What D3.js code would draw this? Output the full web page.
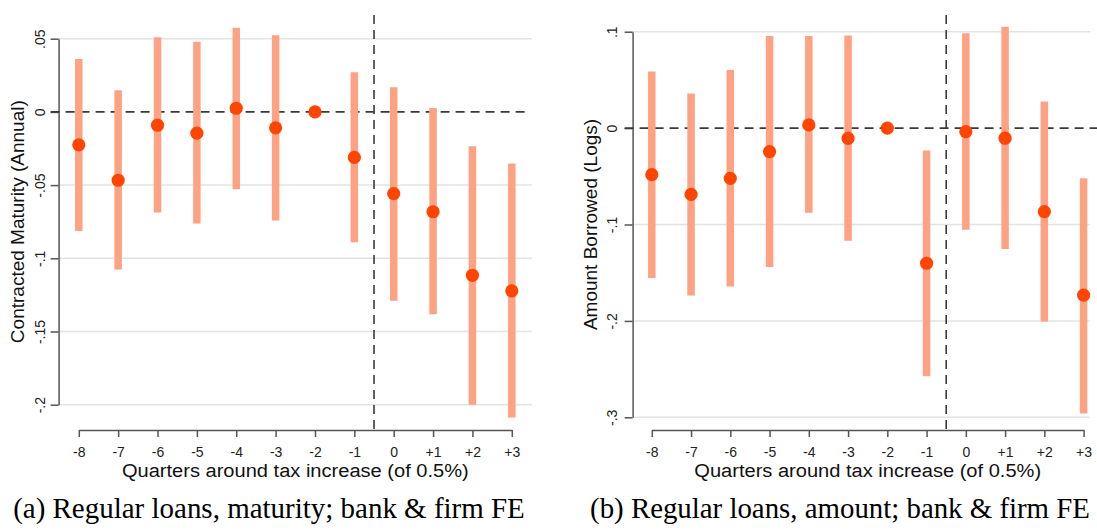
<!DOCTYPE html>
<html>
<head>
<meta charset="utf-8">
<script src="https://cdn.jsdelivr.net/npm/d3@7"></script>
<style>
  html, body { margin: 0; padding: 0; background: #fff; }
  svg { display: block; }
</style>
</head>
<body>
<svg id="chart" width="1097" height="531"></svg>
<script>
// ---- DATA ----
const quarters = ["-8", "-7", "-6", "-5", "-4", "-3", "-2", "-1", "0", "+1", "+2", "+3"];

// Panel (a): Contracted Maturity (Annual)
const maturityEst   = [-0.0225, -0.0467, -0.0091, -0.0145, 0.0025, -0.0109, 0, -0.0311, -0.0558, -0.0682, -0.1116, -0.1222];
const maturityLower = [-0.0813, -0.1076, -0.0687, -0.0762, -0.0528, -0.0741, null, -0.0891, -0.1290, -0.1382, -0.2000, -0.2087];
const maturityUpper = [0.0362, 0.0148, 0.0510, 0.0480, 0.0574, 0.0524, null, 0.0271, 0.0169, 0.0027, -0.0234, -0.0352];
const maturityTicks = [0.05, 0, -0.05, -0.1, -0.15, -0.2];
const maturityTickLabels = [".05", "0", "-.05", "-.1", "-.15", "-.2"];

// Panel (b): Amount Borrowed (Logs)
const amountEst   = [-0.0483, -0.0688, -0.0521, -0.0244, 0.0033, -0.0107, 0, -0.1402, -0.0036, -0.0105, -0.0866, -0.1732];
const amountLower = [-0.1556, -0.1737, -0.1643, -0.1442, -0.0878, -0.1168, null, -0.2575, -0.1054, -0.1255, -0.2006, -0.2960];
const amountUpper = [0.0586, 0.0360, 0.0602, 0.0955, 0.0955, 0.0960, null, -0.0232, 0.0983, 0.1051, 0.0277, -0.0519];
const amountTicks = [0.1, 0, -0.1, -0.2, -0.3];
const amountTickLabels = [".1", "0", "-.1", "-.2", "-.3"];

const xTitle = "Quarters around tax increase (of 0.5%)";
const captions = ["(a) Regular loans, maturity; bank & firm FE", "(b) Regular loans, amount; bank & firm FE"];
const yTitles = ["Contracted Maturity (Annual)", "Amount Borrowed (Logs)"];

// ---- LAYOUT ----
const svg = d3.select("#chart");
const SANS = "'Liberation Sans', Arial, Helvetica, sans-serif";
const SERIF = "'Liberation Serif', 'Times New Roman', Times, serif";
const barColor = "#FFA284";
const dotColor = "#FF4500";
const axisColor = "#555";
const gridColor = "#e3e3e3";
const dashColor = "#3a3a3a";

const panels = [
  {
    est: maturityEst, lo: maturityLower, hi: maturityUpper,
    ticks: maturityTicks, tickLabels: maturityTickLabels,
    yDomain: [-0.2, 0.05], yRange: [404.7, 38.7],
    xRange: [78.8, 511.8], axisX: 58.6, plotRight: 532, dashRight: 530, plotTop: 15, axisY: 430,
    yTitle: yTitles[0], yTitleX: 24, yTickLabelX: 45,
    caption: captions[0], capCenter: 269, capWidth: 512
  },
  {
    est: amountEst, lo: amountLower, hi: amountUpper,
    ticks: amountTicks, tickLabels: amountTickLabels,
    yDomain: [-0.3, 0.1], yRange: [417.3, 31.7],
    xRange: [651.8, 1083.6], axisX: 632.6, plotRight: 1090, dashRight: 1097, plotTop: 15, axisY: 430,
    yTitle: yTitles[1], yTitleX: 597, yTickLabelX: 617,
    caption: captions[1], capCenter: 840, capWidth: 500
  }
];

const titleFs = 19, tickFs = 14, xTitleWidth = 347, xTickLabelY = 456.5, xTitleY = 476.5;

panels.forEach(p => {
  const g = svg.append("g");
  const x = d3.scalePoint().domain(quarters).range(p.xRange);
  const y = d3.scaleLinear().domain(p.yDomain).range(p.yRange);

  // gridlines
  g.selectAll(".grid").data(p.ticks.filter(t => t !== 0)).enter().append("line")
    .attr("x1", p.axisX).attr("x2", p.plotRight)
    .attr("y1", d => y(d)).attr("y2", d => y(d))
    .attr("stroke", gridColor).attr("stroke-width", 1.5);

  // y axis
  const yAxis = d3.axisLeft(y).tickValues(p.ticks)
    .tickFormat((d, i) => p.tickLabels[i]).tickSize(8).tickSizeOuter(0);
  const ya = g.append("g").attr("transform", `translate(${p.axisX},0)`).call(yAxis);
  ya.select(".domain").attr("stroke", axisColor).attr("stroke-width", 1.5);
  ya.selectAll(".tick line").attr("stroke", axisColor).attr("stroke-width", 1.5);
  ya.selectAll(".tick text")
    .attr("font-family", SANS).attr("font-size", tickFs).attr("fill", "#222")
    .attr("text-anchor", "middle")
    .attr("x", null).attr("dy", null)
    .attr("transform", `translate(${p.yTickLabelX - p.axisX},0) rotate(-90)`)
    .attr("y", 0);

  // x axis
  const xAxis = d3.axisBottom(x).tickSize(7).tickSizeOuter(0);
  const xa = g.append("g").attr("transform", `translate(0,${p.axisY})`).call(xAxis);
  xa.select(".domain").attr("stroke", axisColor).attr("stroke-width", 1.5);
  xa.selectAll(".tick line").attr("stroke", axisColor).attr("stroke-width", 1.5);
  xa.selectAll(".tick text")
    .attr("font-family", SANS).attr("font-size", tickFs).attr("fill", "#222")
    .attr("dy", null).attr("y", xTickLabelY - p.axisY);

  // zero reference line
  g.append("line")
    .attr("x1", p.axisX - 8).attr("x2", p.dashRight)
    .attr("y1", y(0)).attr("y2", y(0))
    .attr("stroke", dashColor).attr("stroke-width", 1.6)
    .attr("stroke-dasharray", "9,6");

  // vertical event line between -1 and 0
  const xv = (x("-1") + x("0")) / 2;
  g.append("line")
    .attr("x1", xv).attr("x2", xv)
    .attr("y1", p.plotTop).attr("y2", p.axisY)
    .attr("stroke", dashColor).attr("stroke-width", 1.6)
    .attr("stroke-dasharray", "9,6");

  // CI bars
  const idx = d3.range(quarters.length).filter(i => p.lo[i] !== null);
  g.selectAll(".ci").data(idx).enter().append("line")
    .attr("x1", i => x(quarters[i])).attr("x2", i => x(quarters[i]))
    .attr("y1", i => y(p.lo[i])).attr("y2", i => y(p.hi[i]))
    .attr("stroke", barColor).attr("stroke-width", 7.5);

  // points
  g.selectAll(".pt").data(d3.range(quarters.length)).enter().append("circle")
    .attr("cx", i => x(quarters[i])).attr("cy", i => y(p.est[i]))
    .attr("r", 6.6).attr("fill", dotColor);

  // y title
  const yMid = (p.yRange[0] + p.yRange[1]) / 2;
  g.append("text")
    .attr("transform", `translate(${p.yTitleX},${yMid}) rotate(-90)`)
    .attr("text-anchor", "middle")
    .attr("font-family", SANS).attr("font-size", titleFs).attr("fill", "#111")
    .text(p.yTitle);

  // x title (stretched horizontally to the reference width)
  const xc = (p.xRange[0] + p.xRange[1]) / 2;
  const xt = g.append("text")
    .attr("x", 0).attr("y", 0)
    .attr("text-anchor", "middle")
    .attr("font-family", SANS).attr("font-size", titleFs).attr("fill", "#111")
    .text(xTitle);
  const tw = xt.node().getComputedTextLength();
  xt.attr("transform", `translate(${xc},${xTitleY}) scale(${xTitleWidth / tw},1)`);

  // caption
  const cap = g.append("text")
    .attr("x", p.capCenter).attr("y", 518)
    .attr("text-anchor", "middle")
    .attr("font-family", SERIF).attr("font-size", 24).attr("fill", "#000")
    .text(p.caption);
  const w = cap.node().getComputedTextLength();
  cap.attr("font-size", 24 * p.capWidth / w);
});
</script>
</body>
</html>
